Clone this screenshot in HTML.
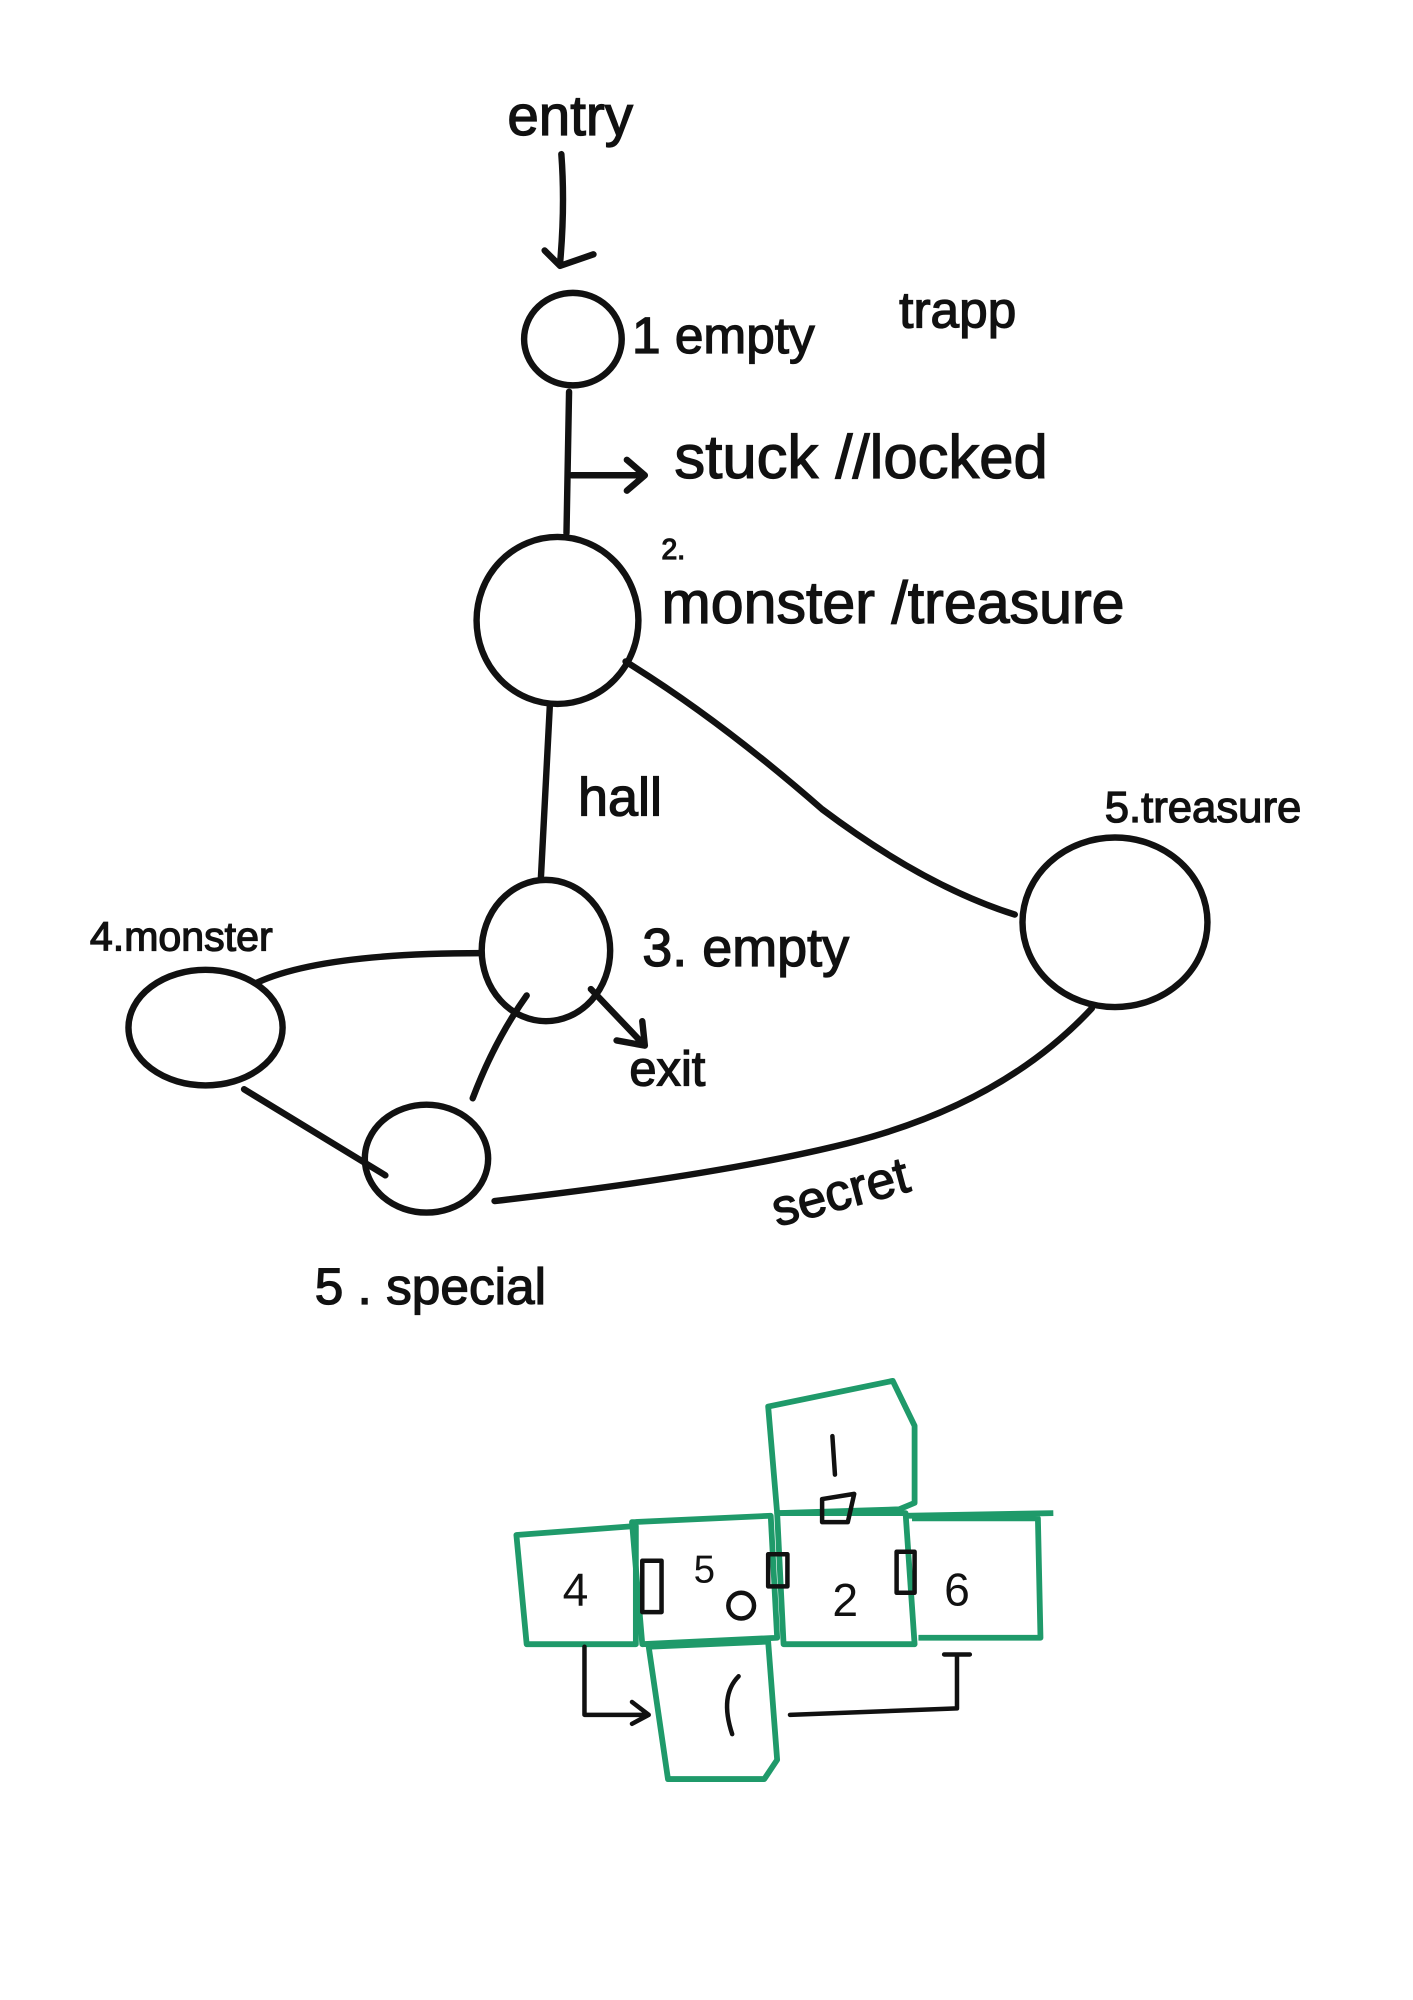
<!DOCTYPE html>
<html><head><meta charset="utf-8"><style>
html,body{margin:0;padding:0;background:#fff;}
svg{display:block;}
text{font-family:"Liberation Sans",sans-serif;fill:#111;}
</style></head><body>
<svg width="1413" height="2000" viewBox="0 0 1100 1557" xmlns="http://www.w3.org/2000/svg">
<g fill="none" stroke="#111" stroke-width="5" stroke-linecap="round" stroke-linejoin="round">
<path d="M437 120 Q440 160 436 205 M424 195 L436 207 L462 198"/>
<ellipse cx="446" cy="264" rx="38" ry="36"/>
<path d="M443 305 L441 415"/>
<path d="M445 370 L500 370 M488 358 L502 370 L488 382"/>
<ellipse cx="434" cy="483" rx="63" ry="65"/>
<path d="M428 550 L421 685"/>
<path d="M487 515 Q560 560 640 630 Q720 690 790 712"/>
<ellipse cx="868" cy="718" rx="72" ry="66"/>
<ellipse cx="425" cy="740" rx="50" ry="55"/>
<path d="M460 770 L500 812 M480 810 L502 814 L500 795"/>
<ellipse cx="160" cy="800" rx="60" ry="45"/>
<path d="M200 765 Q250 742 375 742"/>
<path d="M190 848 L300 915"/>
<ellipse cx="332" cy="902" rx="48" ry="42"/>
<path d="M410 775 Q385 810 368 855"/>
<path d="M385 935 Q560 915 660 890 Q780 860 850 785"/>
</g>
<g font-size="40" stroke="#111" stroke-width="1">
<text x="395" y="105" font-size="44">entry</text>
<text x="492" y="275">1 empty</text>
<text x="700" y="255">trapp</text>
<text x="525" y="372" font-size="48">stuck //locked</text>
<text x="515" y="435" font-size="22">2.</text>
<text x="515" y="485" font-size="46">monster /treasure</text>
<text x="450" y="635" font-size="42">hall</text>
<text x="860" y="640" font-size="34">5.treasure</text>
<text x="500" y="752" font-size="42">3. empty</text>
<text x="490" y="845" font-size="38">exit</text>
<text x="70" y="740" font-size="32">4.monster</text>
<text x="245" y="1015" font-size="40">5 . special</text>
<text x="605" y="955" font-size="40" transform="rotate(-15 605 955)">secret</text>
</g>
<g fill="none" stroke="#1f9a6a" stroke-width="4.5" stroke-linejoin="round">
<path d="M598 1095 L695 1075 L712 1110 L712 1170 L700 1175 L605 1178 Z"/>
<path d="M402 1195 L495 1188 L495 1280 L410 1280 Z"/>
<path d="M492 1185 L600 1180 L605 1275 L500 1280 Z"/>
<path d="M605 1178 L705 1178 L712 1280 L610 1280 Z"/>
<path d="M705 1180 L820 1178 M710 1182 L808 1182 L810 1275 L715 1275"/>
<path d="M505 1282 L598 1278 L605 1370 L595 1385 L520 1385 L512 1330 Z"/>
</g>
<g fill="none" stroke="#111" stroke-width="3.5" stroke-linecap="round" stroke-linejoin="round">
<rect x="500" y="1215" width="15" height="40"/>
<rect x="598" y="1210" width="15" height="25"/>
<rect x="698" y="1208" width="14" height="32"/>
<path d="M640 1167 L665 1163 L660 1185 L640 1185 Z"/>
<circle cx="577" cy="1250" r="10"/>
<path d="M455 1282 L455 1335 L505 1335 M492 1325 L505 1335 L492 1342"/>
<path d="M615 1335 L745 1330 L745 1288 M735 1288 L755 1288"/>
<path d="M648 1118 L650 1148"/>
<path d="M575 1305 Q560 1320 570 1350"/>
</g>
<g font-size="36">
<text x="438" y="1250">4</text>
<text x="540" y="1232" font-size="30">5</text>
<text x="648" y="1258">2</text>
<text x="735" y="1250">6</text>
</g>
</svg>
</body></html>
